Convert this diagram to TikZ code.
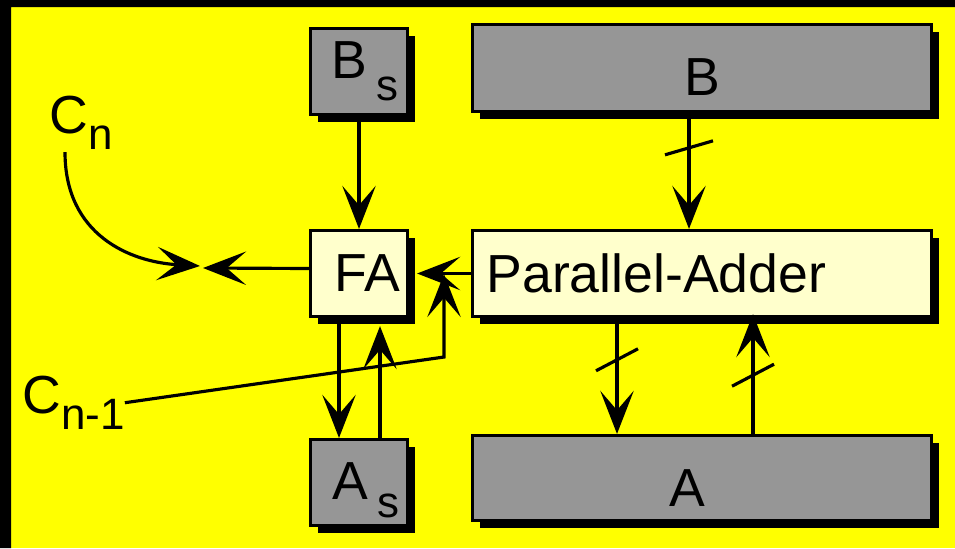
\documentclass[tikz,border=0pt]{standalone}
\usepackage{fontspec}
\setmainfont{Liberation Sans}
\usetikzlibrary{arrows.meta,shadows}
\definecolor{bgyellow}{HTML}{FFFF00}
\definecolor{reggray}{HTML}{969696}
\definecolor{addfill}{HTML}{FFFFCC}
\newlength\pxu
\setlength\pxu{0.02cm}
\newcommand\lblfont{\fontsize{30.5pt}{33pt}\selectfont}
\newcommand\subtxt[2][9.6pt]{\raisebox{-#1}{\fontsize{25pt}{25pt}\selectfont #2}}
\tikzset{
  regbox/.style={draw, line width=1.8pt, fill=reggray, inner sep=0pt, font=\lblfont,
    drop shadow={shadow xshift=4.5pt, shadow yshift=-4.5pt, fill=black, opacity=1}},
  addbox/.style={regbox, fill=addfill},
  lbl/.style={font=\lblfont, inner sep=0pt, anchor=base west},
  arr/.style={line width=1.8pt, -{Stealth[length=24.5pt, width=19pt, inset=11pt]}}
}
\begin{document}
\begin{tikzpicture}[x=0.02cm, y=-0.02cm]
      \useasboundingbox (0,0) rectangle (955,548);
      \fill[bgyellow] (0,0) rectangle (955,548);
      \fill[black] (0,0) rectangle (11,548) (0,0) rectangle (955,7);
      \node[regbox, minimum width=97\pxu, minimum height=86\pxu] (bs) at (359,71.5) {\hspace*{12\pxu}B\,\subtxt[12.5pt]{s}};
      \node[regbox, minimum width=459\pxu, minimum height=87\pxu, text height=31.7pt] (b) at (702,68) {B};
      \node[addbox, minimum width=97\pxu, minimum height=86\pxu] (fa) at (359,273.5) {\hspace*{16\pxu}FA};
      \node[addbox, minimum width=459\pxu, minimum height=86\pxu, inner xsep=14\pxu, text width=431\pxu, align=left] (pa) at (702,273.5) {Parallel-Adder};
      \node[regbox, minimum width=97\pxu, minimum height=86\pxu, text height=30pt] (as) at (359,482.5) {\hspace*{14\pxu}A\,\subtxt[10.2pt]{s}};
      \node[regbox, minimum width=459\pxu, minimum height=85\pxu, text height=32.9pt] (a) at (702,478) {\hspace*{-30\pxu}A};
      \node[lbl] (cn) at (49,133) {C\subtxt{n}};
      \node[lbl] (cn1) at (22,413) {C\subtxt{n-1}};
      \coordinate (cout) at (203,268);
      \coordinate (cnin) at (200,266);
      \coordinate (cin) at (444,274);
      \begin{scope}[arr]
        \draw (bs) to (fa);
        \draw ([shift={(-13,0)}]b.south) -- coordinate[pos=0.3] (bcut) ([shift={(-13,0)}]pa.north);
        \draw (pa.west) to ([shift={(8,0)}]fa.east);
        \draw ([shift={(0,-5)}]fa.west) to (cout);
        \draw ([shift={(16,2)}]cn.south west) .. controls (65,235) and (130,262) .. (cnin);
        \draw (cn1.east) -- (444,357) -- (cin);
        \draw ([shift={(-20,0)}]fa.south) to ([shift={(-20,0)}]as.north);
        \draw ([shift={(21,0)}]as.north) to ([shift={(21,8)}]fa.south);
        \draw ([shift={(-85,0)}]pa.south) -- coordinate[pos=0.36] (pacut) ([shift={(-85,0)}]a.north);
        \draw ([shift={(51,0)}]a.north) -- coordinate[pos=0.49] (acut) ([shift={(51,-4)}]pa.south);
      \end{scope}
      \foreach \c/\dx/\dy in {bcut/24/7, pacut/21/11, acut/21/11}
        \draw[line width=1.8pt] ([shift={(-\dx,\dy)}]\c) -- ([shift={(\dx,-\dy)}]\c);
    \end{tikzpicture}
\end{document}
